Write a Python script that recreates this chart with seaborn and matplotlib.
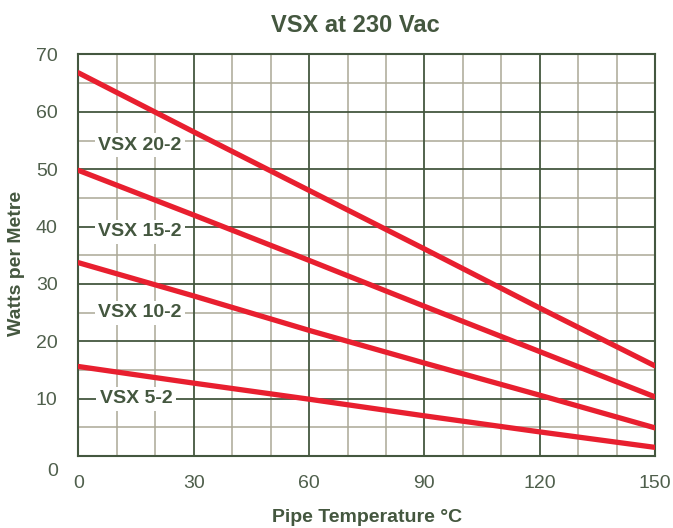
import pandas as pd
import numpy as np
import matplotlib
matplotlib.use("Agg")
import matplotlib.pyplot as plt
import matplotlib.transforms as mtransforms
import seaborn as sns

# Data
temps = [0, 30, 60, 90, 120, 150]
vsx_20_2 = [66.8, 56.5, 46.3, 36.1, 25.8, 15.7]
vsx_15_2 = [49.8, 42.0, 34.1, 26.1, 18.2, 10.3]
vsx_10_2 = [33.7, 27.9, 21.9, 16.2, 10.6, 4.9]
vsx_5_2 = [15.6, 12.7, 9.9, 7.0, 4.2, 1.5]

series_names = ["VSX 20-2", "VSX 15-2", "VSX 10-2", "VSX 5-2"]
label_x = [16, 16, 16, 15]
label_y = [54.2, 39.1, 25, 10]

x_ticks = [0, 30, 60, 90, 120, 150]
y_ticks = [0, 10, 20, 30, 40, 50, 60, 70]

df = pd.DataFrame({
    "temp": temps * 4,
    "watts": vsx_20_2 + vsx_15_2 + vsx_10_2 + vsx_5_2,
    "cable": [n for n in series_names for _ in temps],
})

sns.set_style("white")
plt.rcParams["font.family"] = ["Liberation Sans Narrow", "Liberation Sans", "DejaVu Sans"]

dark = "#44573f"
tick_col = "#4f5f4c"
minor = "#aba896"
red = "#e81f2f"

fig = plt.figure(figsize=(6.73, 5.28), dpi=100)
ax = fig.add_axes([0.1166, 0.1364, 0.8567, 0.7604])

# grid
for x in range(0, 151, 10):
    major = x % 30 == 0
    ax.axvline(x, color=dark if major else minor, lw=1.3 if major else 1.1, zorder=1 if major else 0)
for y in range(0, 71, 5):
    major = y % 10 == 0
    ax.axhline(y, color=dark if major else minor, lw=1.3 if major else 1.1, zorder=1 if major else 0)

sns.lineplot(data=df, x="temp", y="watts", units="cable", estimator=None,
             color=red, lw=3.8, ax=ax, zorder=3, solid_capstyle="round")

for name, lx, ly in zip(series_names, label_x, label_y):
    ax.text(lx, ly, name, ha="center", va="center", fontsize=14, fontweight="bold",
            color=dark, zorder=4,
            bbox=dict(facecolor="white", edgecolor="none", pad=2.5))

ax.set_xlim(0, 150)
ax.set_ylim(0, 70)
ax.set_xticks(x_ticks)
ax.set_yticks(y_ticks)
ax.tick_params(axis="both", length=0, labelsize=14, labelcolor=tick_col)
ax.tick_params(axis="x", pad=14)
ax.tick_params(axis="y", pad=15)
for spine in ax.spines.values():
    spine.set_color(dark)
    spine.set_linewidth(1.5)

# the "0" on the y axis sits below the corner in the reference
ylabels = ax.get_yticklabels()
ylabels[0].set_transform(ylabels[0].get_transform() +
                         mtransforms.ScaledTranslation(0, -10 / 72, fig.dpi_scale_trans))

ax.set_xlabel("Pipe Temperature °C", fontsize=14, fontweight="bold", color=dark)
ax.xaxis.set_label_coords(0.5, -0.132)
ax.set_ylabel("Watts per Metre", fontsize=14, fontweight="bold", color=dark)
ax.yaxis.set_label_coords(-0.093, 0.48)
ax.set_title("VSX at 230 Vac", fontsize=17, fontweight="bold", color=dark, x=0.48, pad=16)

fig.savefig("out.png", dpi=100)
